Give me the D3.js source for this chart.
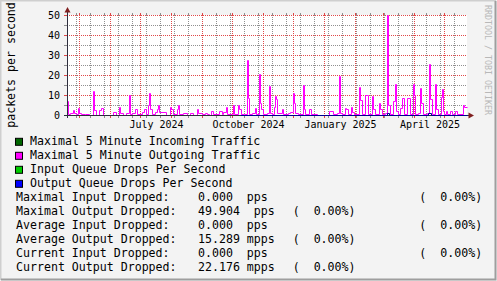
<!DOCTYPE html>
<html>
<head>
<meta charset="utf-8">
<title>packets per second</title>
<script src="https://d3js.org/d3.v7.min.js"></script>
<style>
body { margin: 0; background: #f3f3f3; }
text { font-family: "DejaVu Sans Mono", monospace; }
</style>
</head>
<body>
<div id="chart"></div>
<script>
// values (daily max, packets per second)
var outgoing = [
  ["2024-04-19", 6.8], ["2024-04-20", 0.3], ["2024-04-22", 1.2], ["2024-04-25", 2.3], ["2024-04-26", 1.0],
  ["2024-04-28", 0.3], ["2024-04-30", 3.3], ["2024-05-01", 1.2], ["2024-05-03", 0.3], ["2024-05-07", 0.7], ["2024-05-11", 0.2],
  ["2024-05-15", 12], ["2024-05-16", 2.7], ["2024-05-18", 0.2], ["2024-05-21", 2.4], ["2024-05-23", 3.3],
  ["2024-05-25", 0.2], ["2024-06-04", 1.7], ["2024-06-07", 0.2], ["2024-06-10", 4.2], ["2024-06-11", 1.2],
  ["2024-06-14", 0.2], ["2024-06-17", 0.8], ["2024-06-20", 10], ["2024-06-21", 0.3], ["2024-06-23", 1.0],
  ["2024-06-26", 2.8], ["2024-06-28", 0.3], ["2024-07-03", 1.5], ["2024-07-05", 2.8], ["2024-07-07", 0.3],
  ["2024-07-09", 4.8], ["2024-07-10", 11.2], ["2024-07-11", 2.8], ["2024-07-13", 0.3], ["2024-07-16", 1.6],
  ["2024-07-18", 2.8], ["2024-07-19", 5.2], ["2024-07-20", 1.5], ["2024-07-27", 0.2], ["2024-07-31", 4.2],
  ["2024-08-01", 3.2], ["2024-08-03", 0.3], ["2024-08-07", 2.8], ["2024-08-08", 4.9], ["2024-08-09", 0.3],
  ["2024-08-13", 1.0], ["2024-08-17", 0.2], ["2024-08-20", 1.0], ["2024-08-23", 0.2], ["2024-08-27", 2.8],
  ["2024-08-28", 1.0], ["2024-09-01", 0.3], ["2024-09-04", 1.0], ["2024-09-06", 0.6], ["2024-09-08", 0.2],
  ["2024-09-10", 2.0], ["2024-09-12", 0.3], ["2024-09-18", 1.8], ["2024-09-21", 0.3], ["2024-09-22", 1.5],
  ["2024-09-25", 4.2], ["2024-09-26", 0.3], ["2024-10-01", 0.6], ["2024-10-02", 5.2], ["2024-10-03", 0.3],
  ["2024-10-07", 4.8], ["2024-10-08", 2.9], ["2024-10-10", 0.3], ["2024-10-13", 0.6], ["2024-10-16", 27.6],
  ["2024-10-17", 8.5], ["2024-10-18", 0.3], ["2024-10-21", 1.0], ["2024-10-24", 3.3], ["2024-10-25", 0.3],
  ["2024-10-28", 20.7], ["2024-10-29", 6.0], ["2024-10-30", 3.2], ["2024-11-01", 0.3], ["2024-11-05", 1.0],
  ["2024-11-07", 14.7], ["2024-11-08", 1.0], ["2024-11-10", 0.3], ["2024-11-12", 4.2], ["2024-11-13", 9.4],
  ["2024-11-14", 7.8], ["2024-11-15", 1.0], ["2024-11-20", 2.9], ["2024-11-21", 0.3], ["2024-11-26", 1.0],
  ["2024-11-28", 1.5], ["2024-12-01", 11.2], ["2024-12-02", 6.2], ["2024-12-03", 1.0], ["2024-12-06", 0.3],
  ["2024-12-11", 15], ["2024-12-12", 2.9], ["2024-12-13", 0.3], ["2024-12-17", 2.8], ["2024-12-19", 0.3],
  ["2024-12-25", 0], ["2025-01-06", 1.8], ["2025-01-10", 0.3], ["2025-01-14", 1.0], ["2025-01-16", 19.7],
  ["2025-01-17", 1.0], ["2025-01-19", 0.3], ["2025-01-22", 3.6], ["2025-01-23", 2.8], ["2025-01-25", 0.3],
  ["2025-01-28", 4.2], ["2025-01-29", 1.5], ["2025-01-31", 0.3], ["2025-02-05", 14], ["2025-02-06", 7.5], ["2025-02-08", 0.3],
  ["2025-02-11", 9.8], ["2025-02-14", 0.3], ["2025-02-18", 9.4], ["2025-02-19", 2.8], ["2025-02-21", 0.3],
  ["2025-02-25", 6.2], ["2025-02-26", 2.8], ["2025-02-28", 0.3], ["2025-03-03", 1.0], ["2025-03-05", 49.9],
  ["2025-03-06", 4.8], ["2025-03-08", 0.3], ["2025-03-11", 7.0], ["2025-03-13", 15.7], ["2025-03-14", 1.8],
  ["2025-03-16", 0.3], ["2025-03-18", 3.6], ["2025-03-20", 8.6], ["2025-03-22", 0.3], ["2025-03-25", 8.6],
  ["2025-03-28", 0.3], ["2025-03-31", 15.7], ["2025-04-01", 10], ["2025-04-02", 0.3], ["2025-04-05", 1.0],
  ["2025-04-07", 13.5], ["2025-04-08", 6.0], ["2025-04-10", 0.3], ["2025-04-14", 1.0], ["2025-04-16", 25.7],
  ["2025-04-17", 8.2], ["2025-04-19", 0.3], ["2025-04-22", 15.7], ["2025-04-23", 2.8], ["2025-04-25", 0.3],
  ["2025-04-28", 8.8], ["2025-04-29", 13], ["2025-04-30", 2.0], ["2025-05-01", 0.3], ["2025-05-03", 1.8], ["2025-05-04", 0.3],
  ["2025-05-07", 1.8], ["2025-05-09", 0.3], ["2025-05-12", 1.8], ["2025-05-14", 0.3], ["2025-05-20", 4.9],
  ["2025-05-21", 4.0], ["2025-05-24", 4.0]
];
var incoming = [["2024-04-19", 0], ["2025-05-24", 0]];
var inDrops = [["2024-04-19", 0], ["2025-05-24", 0]];
var outDrops = [
  ["2024-10-09", 0], ["2025-03-05", 0.8], ["2025-03-07", 0], ["2025-04-15", 0.8], ["2025-04-18", 0], ["2025-05-24", 0]
];

var majorY = [0, 10, 20, 30, 40, 50];
var minorY = [5, 15, 25, 35, 45];
var labelMonths = ["2024-07-01", "2024-10-01", "2025-01-01", "2025-04-01"];
var labelTexts = ["July 2024", "October 2024", "January 2025", "April 2025"];

var legendNames = ["Maximal 5 Minute Incoming Traffic", "Maximal 5 Minute Outgoing Traffic",
  "Input Queue Drops Per Second", "Output Queue Drops Per Second"];
var legendColors = ["#006600", "#ff00ff", "#00cc00", "#0000ff"];

var statLabels = ["Maximal Input Dropped:", "Maximal Output Dropped:", "Average Input Dropped:",
  "Average Output Dropped:", "Current Input Dropped:", "Current Output Dropped:"];
var statValues = ["0.000", "49.904", "0.000", "15.289", "0.000", "22.176"];
var statPrefix = [" ", " ", " ", "m", " ", "m"];
var statPercent = ["0.00%", "0.00%", "0.00%", "0.00%", "0.00%", "0.00%"];

var W = 497, H = 281;
var parse = d3.utcParse("%Y-%m-%d");
var start = parse("2024-04-19"), end = parse("2025-05-24");

var svg = d3.select("#chart").append("svg")
    .attr("width", W).attr("height", H);

// background + 3d border
svg.append("rect").attr("width", W).attr("height", H).attr("fill", "#f3f3f3");
svg.append("path").attr("d", "M0.5,280V0.5H496").attr("fill", "none").attr("stroke", "#cfcfcf").attr("stroke-width", 2);
svg.append("path").attr("d", "M1,279.5H495.5V1").attr("fill", "none").attr("stroke", "#9e9e9e").attr("stroke-width", 2);

var x = d3.scaleUtc().domain([start, end]).range([67, 467]);
var y = d3.scaleLinear().domain([0, 50]).range([115, 15]);

svg.append("rect").attr("x", 67).attr("y", 15).attr("width", 400).attr("height", 100).attr("fill", "#ffffff");

var grid = svg.append("g");
var gridGrey = "#8f8f8f", gridRed = "#e04848";

// vertical grid: two-weekly minor, monthly major
var minorX = d3.utcDay.range(parse("2024-04-28"), end).filter(function (d, i) { return i % 14 == 0; });
var majorX = d3.utcMonth.range(parse("2024-05-01"), end);

function vline(list, color) {
  list.forEach(function (d) {
    var px = Math.round(x(d)) + 0.5;
    grid.append("line").attr("x1", px).attr("x2", px).attr("y1", 15).attr("y2", 115)
      .attr("stroke", color).attr("stroke-dasharray", "1,1");
    grid.append("line").attr("x1", px).attr("x2", px).attr("y1", 13).attr("y2", 15).attr("stroke", color);
    grid.append("line").attr("x1", px).attr("x2", px).attr("y1", 116).attr("y2", 118).attr("stroke", color);
  });
}
function hline(list, color) {
  list.forEach(function (v) {
    var py = Math.round(y(v)) + 0.5;
    grid.append("line").attr("x1", 67).attr("x2", 467).attr("y1", py).attr("y2", py)
      .attr("stroke", color).attr("stroke-dasharray", "1,1");
    grid.append("line").attr("x1", 64).attr("x2", 67).attr("y1", py).attr("y2", py).attr("stroke", color);
  });
}
vline(minorX, gridGrey);
hline(minorY, gridGrey);
vline(majorX, gridRed);
hline(majorY, gridRed);

// y labels
svg.append("g").selectAll("text").data(majorY).enter().append("text")
  .attr("x", 60).attr("y", function (d) { return Math.round(y(d)) + 0.5; })
  .attr("dy", "0.36em").attr("text-anchor", "end").attr("font-size", "10px")
  .text(function (d) { return d; });

// x labels, centred in their month
svg.append("g").selectAll("text").data(labelMonths).enter().append("text")
  .attr("x", function (d) { var m = parse(d); return (x(m) + x(d3.utcMonth.offset(m, 1))) / 2 + 1; })
  .attr("y", 127.5).attr("text-anchor", "middle").attr("font-size", "10px")
  .text(function (d, i) { return labelTexts[i]; });

// series
function stepLine(data, color) {
  var line = d3.line()
    .x(function (d) { return Math.round(x(parse(d[0]))) + 0.5; })
    .y(function (d) { return Math.round(y(d[1])) + 0.5; })
    .curve(d3.curveStepAfter);
  svg.append("path").datum(data).attr("d", line)
    .attr("fill", "none").attr("stroke", color).attr("stroke-width", 1);
}
stepLine(incoming, legendColors[0]);
stepLine(outgoing, legendColors[1]);
stepLine(inDrops, legendColors[2]);

// axes
svg.append("line").attr("x1", 64).attr("x2", 469).attr("y1", 115.5).attr("y2", 115.5).attr("stroke", "#2c2c3c");
svg.append("line").attr("x1", 67.5).attr("x2", 67.5).attr("y1", 118).attr("y2", 11).attr("stroke", "#2c2c3c");
stepLine(outDrops, "#000090");
svg.append("path").attr("d", "M64.5,12.5L70.5,12.5L67.5,7z").attr("fill", "#7f1f1f");
svg.append("path").attr("d", "M468.5,112.5L468.5,118.5L474,115.5z").attr("fill", "#7f1f1f");

// titles
svg.append("text").attr("transform", "translate(14.5,65) rotate(-90)")
  .attr("text-anchor", "middle").attr("font-size", "11.6px").text("packets per second");
svg.append("text").attr("transform", "translate(485,5) rotate(90)")
  .attr("font-size", "8.3px").attr("fill", "#b8b8b8").text("RRDTOOL / TOBI OETIKER");

// legend
var leg = svg.append("g");
legendNames.forEach(function (name, i) {
  var by = 145.3 + 14 * i;
  leg.append("rect").attr("x", 15.5).attr("y", by - 7).attr("width", 7).attr("height", 7)
    .attr("fill", legendColors[i]).attr("stroke", "#000");
  leg.append("text").attr("x", 30).attr("y", by).attr("font-size", "11.6px").text(name);
});
statLabels.forEach(function (lab, i) {
  var by = 145.3 + 14 * (i + 4);
  leg.append("text").attr("x", 16).attr("y", by).attr("font-size", "11.6px").text(lab);
  leg.append("text").attr("x", 198).attr("y", by).attr("font-size", "11.6px")
    .attr("xml:space", "preserve").style("white-space", "pre")
    .text(statValues[i] + " " + statPrefix[i] + "pps");
  var isOut = lab.indexOf("Output") >= 0;
  leg.append("text").attr("x", isOut ? 292.7 : 419.3).attr("y", by).attr("font-size", "11.6px")
    .attr("xml:space", "preserve").style("white-space", "pre")
    .text("(  " + statPercent[i] + ")");
});
</script>
</body>
</html>
